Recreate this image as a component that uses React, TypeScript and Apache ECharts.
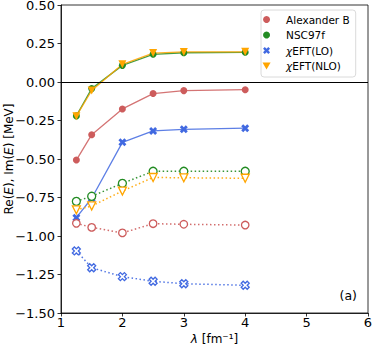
import React, { useEffect, useRef } from "react";
import * as echarts from "echarts";

const lambdas = [1.25, 1.5, 2, 2.5, 3, 4];
const imAlexB = [-0.507, -0.342, -0.175, -0.075, -0.056, -0.05];
const imNSC = [-0.22, -0.043, 0.108, 0.18, 0.19, 0.193];
const imLO = [-0.881, -0.755, -0.392, -0.318, -0.307, -0.3];
const imNLO = [-0.222, -0.055, 0.115, 0.188, 0.195, 0.196];
const reAlexB = [-0.918, -0.944, -0.98, -0.92, -0.924, -0.929];
const reNSC = [-0.775, -0.742, -0.658, -0.58, -0.58, -0.58];
const reLO = [-1.097, -1.206, -1.264, -1.294, -1.31, -1.32];
const reNLO = [-0.83, -0.805, -0.708, -0.62, -0.622, -0.625];
const yTicks = { min: -1.5, max: 0.5, interval: 0.25 };
const xTicks = { min: 1, max: 6, interval: 1 };

const RED = "#CD5C5C";
const GREEN = "#228B22";
const BLUE = "#4169E1";
const ORANGE = "#FFA500";
const FONT = "DejaVu Sans";

const X_PATH =
  "path://M-5,-2.5 L-2.5,-5 L0,-2.5 L2.5,-5 L5,-2.5 L2.5,0 L5,2.5 L2.5,5 L0,2.5 L-2.5,5 L-5,2.5 L-2.5,0 Z";
const TRI_DOWN = "path://M0,0 L10,0 L5,8.66 Z";

const pairs = (ys: number[]) => lambdas.map((x, i) => [x, ys[i]]);

function solid(name: string, ys: number[], color: string, symbol: string, size: number) {
  return {
    name,
    type: "line",
    data: pairs(ys),
    symbol,
    symbolSize: size,
    lineStyle: { color, width: 1.3, opacity: 0.85 },
    itemStyle: { color, borderWidth: 0, opacity: 1 },
    z: 3,
  };
}

function dotted(name: string, ys: number[], color: string, symbol: string, size: number) {
  return {
    name,
    type: "line",
    data: pairs(ys),
    symbol,
    symbolSize: size,
    lineStyle: { color, width: 1.5, type: [1.5, 2.5], opacity: 0.9 },
    itemStyle: { color: "#ffffff", borderColor: color, borderWidth: 1.3, opacity: 1 },
    z: 3,
  };
}

export default function App() {
  const ref = useRef<HTMLDivElement>(null);
  useEffect(() => {
    if (!ref.current) return;
    const chart = echarts.init(ref.current, undefined, { renderer: "svg" });
    const fmtY = (v: number) => v.toFixed(2).replace("-", "\u2212");
    chart.setOption({
      animation: false,
      textStyle: { fontFamily: FONT },
      grid: {
        left: 61,
        right: 6,
        top: 5,
        bottom: 34,
        containLabel: false,
        outerBoundsMode: "none",
        show: true,
        borderColor: "#000",
        borderWidth: 0.8,
        backgroundColor: "transparent",
      },
      xAxis: {
        type: "value",
        ...xTicks,
        axisLine: { show: true, onZero: false, lineStyle: { color: "#000", width: 0.8 } },
        axisTick: { show: true, length: 3.5, lineStyle: { color: "#000", width: 0.8 } },
        axisLabel: { color: "#000", fontSize: 13, fontFamily: FONT, margin: 3, hideOverlap: false },
        splitLine: { show: false },
        name: "{i|λ} [fm⁻¹]",
        nameLocation: "middle",
        nameGap: 20,
        nameMoveOverlap: false,
        nameTextStyle: {
          color: "#000",
          fontSize: 12,
          fontFamily: FONT,
          rich: { i: { fontStyle: "italic", fontSize: 12, fontFamily: FONT, color: "#000" } },
        },
      },
      yAxis: {
        type: "value",
        ...yTicks,
        axisLine: { show: true, onZero: false, lineStyle: { color: "#000", width: 0.8 } },
        axisTick: { show: true, length: 3.5, lineStyle: { color: "#000", width: 0.8 } },
        axisLabel: {
          color: "#000",
          fontSize: 13,
          lineHeight: 10,
          fontFamily: FONT,
          margin: 6,
          formatter: fmtY,
          hideOverlap: false,
        },
        splitLine: { show: false },
        name: "Re({i|E}), Im({i|E}) [MeV]",
        nameLocation: "middle",
        nameRotate: 90,
        nameGap: 46,
        nameMoveOverlap: false,
        nameTextStyle: {
          color: "#000",
          fontSize: 12,
          fontFamily: FONT,
          rich: { i: { fontStyle: "italic", fontSize: 12, fontFamily: FONT, color: "#000" } },
        },
      },
      legend: {
        left: 261,
        top: 10,
        orient: "vertical",
        data: [
          { name: "Alexander B", icon: "circle" },
          { name: "NSC97f", icon: "circle" },
          { name: "LO", icon: X_PATH },
          { name: "NLO", icon: TRI_DOWN },
        ],
        formatter: (n: string) => (n === "LO" ? "{i|χ}EFT(LO)" : n === "NLO" ? "{i|χ}EFT(NLO)" : n),
        itemWidth: 29,
        itemHeight: 7,
        itemGap: 3.5,
        padding: [3.5, 6, 5, 1.5],
        backgroundColor: "rgba(255,255,255,0.8)",
        borderColor: "#d0d0d0",
        borderWidth: 0.8,
        borderRadius: 3,
        textStyle: {
          color: "#000",
          fontSize: 10.5,
          fontFamily: FONT,
          lineHeight: 12,
          rich: { i: { fontStyle: "italic", fontSize: 10.5, fontFamily: FONT, color: "#000", lineHeight: 12 } },
        },
      },
      graphic: [
        {
          type: "text",
          right: 17,
          top: 289,
          style: { text: "(a)", fontSize: 12.5, fontFamily: FONT, fill: "#000" },
        },
      ],
      series: [
        {
          ...solid("Alexander B", imAlexB, RED, "circle", 7),
          markLine: {
            silent: true,
            symbol: "none",
            label: { show: false },
            lineStyle: { color: "#000", width: 1.2, type: "solid" },
            data: [{ yAxis: 0 }],
          },
        },
        solid("NSC97f", imNSC, GREEN, "circle", 7),
        solid("LO", imLO, BLUE, X_PATH, 8),
        solid("NLO", imNLO, ORANGE, TRI_DOWN, 8),
        dotted("reAlexB", reAlexB, RED, "circle", 7.5),
        dotted("reNSC", reNSC, GREEN, "circle", 8),
        dotted("reLO", reLO, BLUE, X_PATH, 8),
        dotted("reNLO", reNLO, ORANGE, TRI_DOWN, 8),
      ],
    });
    return () => chart.dispose();
  }, []);
  return <div ref={ref} style={{ width: 374, height: 347, position: "absolute", left: 0, top: 0 }} />;
}
